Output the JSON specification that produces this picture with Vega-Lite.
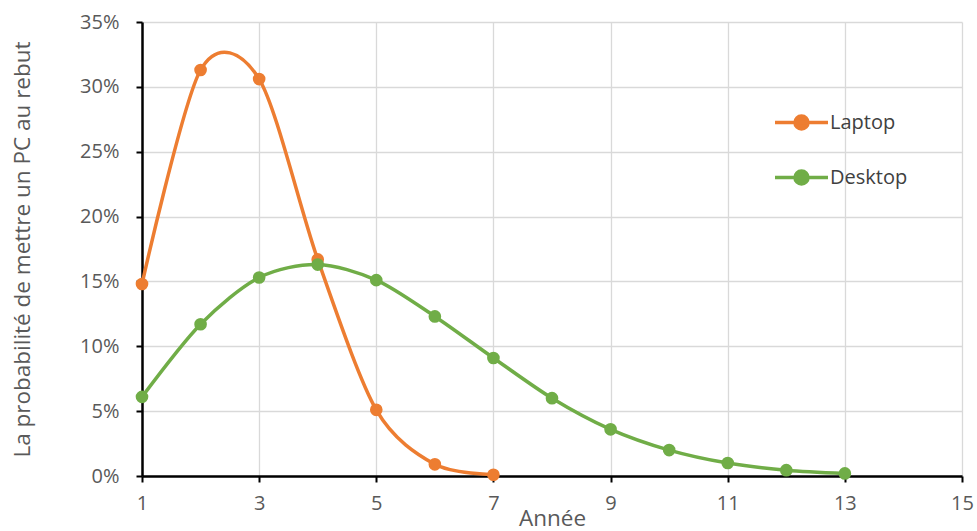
{
  "$schema": "https://vega.github.io/schema/vega-lite/v6.json",
  "width": 820,
  "height": 454,
  "autosize": "none",
  "padding": {"left": 142, "top": 22, "right": 15, "bottom": 55},
  "background": "white",
  "config": {
    "font": "Open Sans",
    "view": {"stroke": null},
    "axis": {
      "labelFont": "Open Sans",
      "titleFont": "Open Sans",
      "labelFontSize": 20,
      "titleFontSize": 22.5,
      "labelColor": "#595959",
      "titleColor": "#595959",
      "titleFontWeight": "normal",
      "gridColor": "#d9d9d9",
      "gridWidth": 1.3,
      "domainColor": "#000000",
      "domainWidth": 2.5,
      "tickColor": "#000000",
      "tickWidth": 2,
      "tickSize": 6
    }
  },
  "data": {
    "values": [
      {"annee": 1, "type": "Laptop", "p": 0.148},
      {"annee": 2, "type": "Laptop", "p": 0.313},
      {"annee": 3, "type": "Laptop", "p": 0.306},
      {"annee": 4, "type": "Laptop", "p": 0.167},
      {"annee": 5, "type": "Laptop", "p": 0.051},
      {"annee": 6, "type": "Laptop", "p": 0.009},
      {"annee": 7, "type": "Laptop", "p": 0.001},
      {"annee": 1, "type": "Desktop", "p": 0.061},
      {"annee": 2, "type": "Desktop", "p": 0.117},
      {"annee": 3, "type": "Desktop", "p": 0.153},
      {"annee": 4, "type": "Desktop", "p": 0.163},
      {"annee": 5, "type": "Desktop", "p": 0.151},
      {"annee": 6, "type": "Desktop", "p": 0.123},
      {"annee": 7, "type": "Desktop", "p": 0.091},
      {"annee": 8, "type": "Desktop", "p": 0.060},
      {"annee": 9, "type": "Desktop", "p": 0.036},
      {"annee": 10, "type": "Desktop", "p": 0.020},
      {"annee": 11, "type": "Desktop", "p": 0.010},
      {"annee": 12, "type": "Desktop", "p": 0.0045},
      {"annee": 13, "type": "Desktop", "p": 0.002}
    ]
  },
  "encoding": {
    "x": {
      "field": "annee",
      "type": "quantitative",
      "scale": {"domain": [1, 15], "nice": false, "zero": false},
      "axis": {
        "title": "Année",
        "values": [1, 3, 5, 7, 9, 11, 13, 15],
        "format": "d",
        "labelPadding": 11,
        "titlePadding": -6,
        "labelFlush": false
      }
    },
    "y": {
      "field": "p",
      "type": "quantitative",
      "scale": {"domain": [0, 0.35], "nice": false},
      "axis": {
        "title": "La probabilité de mettre un PC au rebut",
        "values": [0, 0.05, 0.1, 0.15, 0.2, 0.25, 0.3, 0.35],
        "format": ".0%",
        "labelPadding": 17,
        "titleX": -108,
        "labelFlush": false
      }
    },
    "color": {
      "field": "type",
      "type": "nominal",
      "scale": {"domain": ["Laptop", "Desktop"], "range": ["#ED7D31", "#70AD47"]},
      "legend": {
        "title": null,
        "orient": "none",
        "legendX": 631,
        "legendY": 72,
        "labelFont": "Open Sans",
        "labelFontSize": 20,
        "labelColor": "#404040",
        "rowPadding": 13,
        "labelOffset": 0,
        "symbolType": "M-1,0L1,0M0.25,0A0.25,0.25,0,1,1,-0.25,0A0.25,0.25,0,1,1,0.25,0",
        "symbolSize": 2808,
        "symbolStrokeWidth": 3.3,
        "encode": {
          "symbols": {
            "update": {
              "fill": {"scale": "color", "field": "value"},
              "stroke": {"scale": "color", "field": "value"},
              "opacity": {"value": 1}
            }
          }
        }
      }
    }
  },
  "layer": [
    {
      "mark": {"type": "line", "interpolate": "cardinal", "tension": 0.12, "strokeWidth": 3.5}
    },
    {
      "mark": {"type": "circle", "size": 160, "opacity": 1}
    }
  ]
}
